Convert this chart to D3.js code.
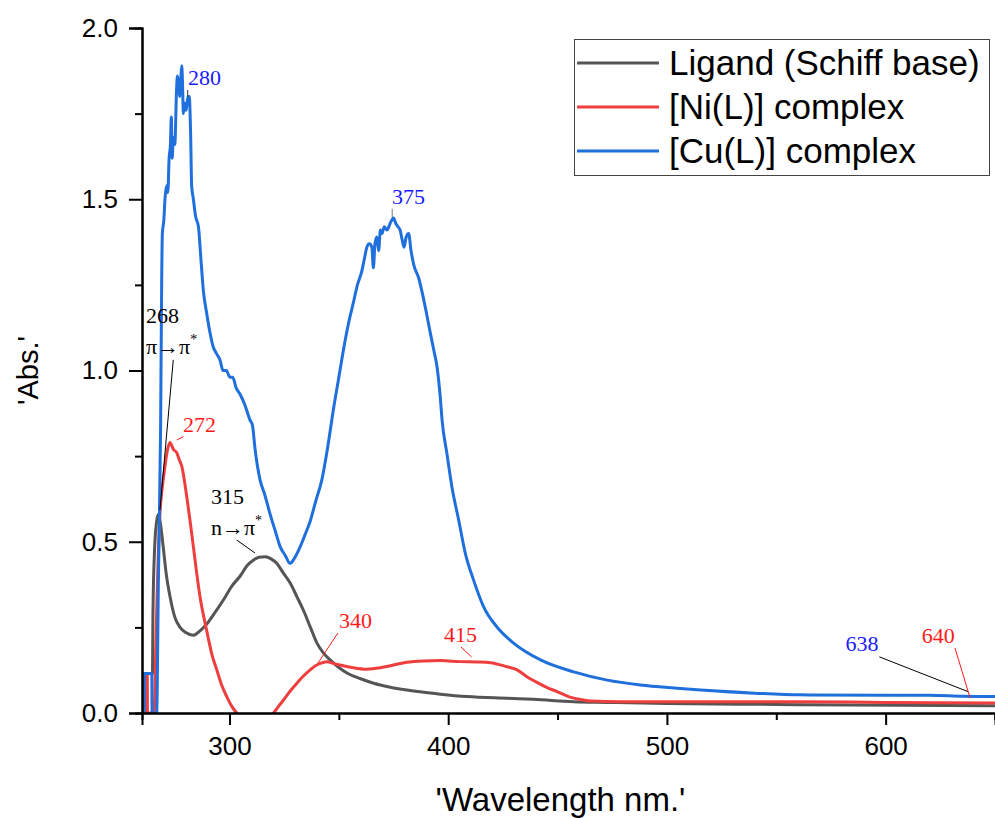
<!DOCTYPE html>
<html>
<head>
<meta charset="utf-8">
<script src="https://cdn.jsdelivr.net/npm/d3@7"></script>
<style>
  body { margin: 0; background: #fff; }
  svg { display: block; }
</style>
</head>
<body>
<svg id="chart" width="995" height="818"></svg>
<script>
'use strict';

// series: [wavelength nm, absorbance]
var ligand = [[261, 0.0], [261.1, 0.115], [264.8, 0.115], [265.0, 0.29], [265.8, 0.485], [266.5, 0.55],
  [267.5, 0.58], [268.5, 0.55], [269.7, 0.485], [271, 0.41], [272.8, 0.34], [275, 0.28], [277.4, 0.25],
  [280, 0.235], [283.5, 0.227], [286.5, 0.24], [289.6, 0.26], [293, 0.29], [297.2, 0.33], [301, 0.37],
  [304.9, 0.40], [308, 0.43], [311, 0.447], [313.5, 0.455], [316.3, 0.456], [319, 0.45], [321.6, 0.437],
  [324.5, 0.41], [327.7, 0.38], [330.8, 0.34], [333.8, 0.30], [337, 0.25], [340, 0.204], [343, 0.175],
  [346, 0.155], [350, 0.133], [353.7, 0.117], [360, 0.1], [365.9, 0.087], [373, 0.076], [381.1, 0.067],
  [388, 0.061], [396.4, 0.055], [408.6, 0.048], [426.9, 0.043], [439, 0.04], [457.4, 0.033], [472.7, 0.031],
  [500, 0.028], [550, 0.025], [583, 0.023], [650, 0.021]];

var niComplex = [[262.0, 0.0], [262.1, 0.115], [262.4, 0.115], [262.5, 0.0], [265.5, 0.0], [266.3, 0.19],
  [267.1, 0.39], [268.2, 0.58], [269.3, 0.66], [270.5, 0.72], [271.7, 0.77], [272.8, 0.79], [274.3, 0.77],
  [275.9, 0.76], [277, 0.74], [278.2, 0.72], [280.5, 0.63], [282, 0.56], [283.5, 0.485], [286.5, 0.34],
  [289.6, 0.24], [292, 0.17], [294.2, 0.126], [296.5, 0.08], [298.8, 0.047], [301, 0.02], [303.3, 0.0],
  [311, -0.03], [320.1, 0.0], [322.5, 0.02], [324.7, 0.038], [327.5, 0.062], [330.8, 0.087], [333.8, 0.108],
  [336.9, 0.126], [339.3, 0.138], [341.5, 0.145], [344.5, 0.15], [347.4, 0.145], [350.6, 0.14], [356, 0.133],
  [362.8, 0.128], [369, 0.132], [375, 0.14], [381, 0.148], [388.7, 0.152], [396.4, 0.153], [405.5, 0.15],
  [413, 0.149], [419.3, 0.147], [426.9, 0.135], [431.5, 0.126], [436, 0.106], [441, 0.088], [445, 0.075],
  [450, 0.062], [455, 0.048], [460, 0.04], [465, 0.035], [478.8, 0.033], [515, 0.033], [561, 0.033],
  [600, 0.031], [650, 0.029]];

var cuComplex = [[261.0, 0.0], [261.1, 0.115], [264.5, 0.115], [264.6, 0.0], [266.7, 0.0], [267.5, 0.39],
  [268.5, 0.83], [269.0, 1.26], [269.3, 1.40], [270.0, 1.44], [270.5, 1.50], [271.3, 1.54], [271.8, 1.52],
  [272.4, 1.62], [273.0, 1.66], [273.4, 1.74], [273.8, 1.62], [274.3, 1.68], [275.0, 1.66], [275.8, 1.82],
  [276.2, 1.86], [276.7, 1.84], [277.2, 1.80], [277.8, 1.86], [278.2, 1.89], [278.6, 1.82], [278.9, 1.75],
  [279.5, 1.78], [280.2, 1.76], [281.0, 1.80], [281.6, 1.80], [282.2, 1.70], [282.7, 1.54], [283.5, 1.50],
  [284.5, 1.45], [285.8, 1.42], [287.0, 1.32], [288.1, 1.23], [289.5, 1.17], [291.1, 1.11], [292.5, 1.07],
  [294.0, 1.05], [295.7, 1.03], [297.0, 1.00], [298.5, 1.00], [300.3, 0.98], [301.5, 0.98], [303.0, 0.95],
  [304.9, 0.93], [307.0, 0.90], [309.4, 0.855], [310.5, 0.84], [311.7, 0.77], [314.0, 0.68], [316.0, 0.64],
  [318.6, 0.58], [321.0, 0.53], [323.2, 0.485], [325.5, 0.46], [327.7, 0.437], [329.5, 0.45], [332.3, 0.485],
  [334.5, 0.52], [336.9, 0.56], [339.5, 0.62], [342.2, 0.68], [345.0, 0.78], [347.6, 0.89], [350.0, 0.98],
  [352.1, 1.06], [354.5, 1.14], [356.7, 1.20], [358.5, 1.25], [360.5, 1.29], [361.8, 1.33], [362.8, 1.36],
  [364.0, 1.37], [365.1, 1.36], [365.8, 1.30], [366.5, 1.37], [367.4, 1.39], [368.2, 1.35], [369.0, 1.41],
  [369.7, 1.40], [370.8, 1.42], [372.0, 1.41], [373.5, 1.43], [375.0, 1.445], [376.0, 1.43], [377.0, 1.42],
  [378.0, 1.41], [379.0, 1.38], [379.8, 1.36], [380.8, 1.39], [381.9, 1.40], [383.0, 1.35], [384.2, 1.31],
  [386.5, 1.27], [388.7, 1.21], [390.3, 1.16], [391.8, 1.11], [393.4, 1.06], [394.9, 1.01], [396.4, 0.92],
  [397.2, 0.855], [399.4, 0.758], [401.7, 0.66], [404.8, 0.563], [407.8, 0.467], [411.6, 0.388], [416.2, 0.31],
  [422.3, 0.251], [429.9, 0.204], [442.2, 0.155], [457.4, 0.12], [472.7, 0.096], [487.9, 0.082], [503.2, 0.073],
  [515.4, 0.067], [540, 0.058], [561, 0.053], [600, 0.052], [620, 0.052], [635, 0.049], [650, 0.048]];

var seriesNames = ['Ligand (Schiff base)', '[Ni(L)] complex', '[Cu(L)] complex'];
var seriesColors = ['#555555', '#ef3e3e', '#1f6fdc'];

var xTicks = [300, 400, 500, 600];
var yTicks = [0.0, 0.5, 1.0, 1.5, 2.0];

// peak labels: text, colour, label pos [nm, abs], leader line from/to [nm, abs]
var peakLabels = [
  { text: '280', color: '#1a1aff', at: [281.0, 1.835], from: [280.9, 1.819], to: [280.9, 1.799], line: '#333' },
  { text: '375', color: '#1a1aff', at: [374.3, 1.486], from: [374.4, 1.472], to: [374.4, 1.448], line: '#777' },
  { text: '268', color: '#000', at: [261.8, 1.139], sub: '\u03c0\u2192\u03c0', from: [274.3, 1.031], to: [268.2, 0.593], line: '#000' },
  { text: '272', color: '#ff1a1a', at: [278.7, 0.820], from: [275.9, 0.797], to: [278.9, 0.807], line: '#ff1a1a' },
  { text: '315', color: '#000', at: [291.5, 0.610], sub: 'n\u2192\u03c0', from: [303.3, 0.505], to: [311.7, 0.467], line: '#000' },
  { text: '340', color: '#ff1a1a', at: [350.1, 0.248], from: [349.6, 0.234], to: [340.5, 0.146], line: '#ff1a1a' },
  { text: '415', color: '#ff1a1a', at: [398.1, 0.207], from: [405.8, 0.193], to: [410.7, 0.1635], line: '#ff1a1a' },
  { text: '638', color: '#1a1aff', at: [581.7, 0.181], from: [597.1, 0.164], to: [637.8, 0.062], line: '#000' },
  { text: '640', color: '#ff1a1a', at: [616.5, 0.204], from: [631.7, 0.190], to: [638.6, 0.044], line: '#ff1a1a' }
];

var svg = d3.select('#chart');
var plotLeft = 142, plotRight = 995, plotTop = 28, plotBottom = 713;

var x = d3.scaleLinear().domain([260, 650]).range([plotLeft, plotRight]);
var y = d3.scaleLinear().domain([0, 2]).range([plotBottom, plotTop]);

svg.append('clipPath').attr('id', 'plotClip')
  .append('rect').attr('x', plotLeft).attr('y', plotTop - 5)
  .attr('width', plotRight - plotLeft).attr('height', plotBottom - plotTop + 5);

// curves
var line = d3.line()
  .x(function (d) { return x(d[0]); })
  .y(function (d) { return y(d[1]); })
  .curve(d3.curveMonotoneX);
var plot = svg.append('g').attr('clip-path', 'url(#plotClip)');
[ligand, niComplex, cuComplex].forEach(function (s, i) {
  plot.append('path').datum(s)
    .attr('d', line)
    .attr('fill', 'none')
    .attr('stroke', seriesColors[i])
    .attr('stroke-width', 3)
    .attr('stroke-linejoin', 'round');
});

// axes (major + minor ticks)
var xAxis = svg.append('g').attr('transform', 'translate(0,' + plotBottom + ')');
xAxis.call(d3.axisBottom(x).tickValues(d3.range(350, 651, 100)).tickSize(7).tickFormat(''));
xAxis.append('g').call(d3.axisBottom(x).tickValues(xTicks).tickSize(12).tickPadding(12).tickFormat(d3.format('d')));

var yAxis = svg.append('g').attr('transform', 'translate(' + plotLeft + ',0)');
yAxis.call(d3.axisLeft(y).tickValues([0.25, 0.75, 1.25, 1.75]).tickSize(7).tickFormat(''));
yAxis.append('g').call(d3.axisLeft(y).tickValues(yTicks).tickSize(13).tickPadding(11).tickFormat(d3.format('.1f')));

svg.selectAll('.domain').attr('stroke', '#000').attr('stroke-width', 2);
svg.selectAll('.tick line').attr('stroke', '#000').attr('stroke-width', 2);
svg.selectAll('.tick text')
  .attr('font-family', 'Liberation Sans, Arial, sans-serif')
  .attr('font-size', 26)
  .attr('fill', '#000');

svg.append('text')
  .attr('x', (plotLeft + plotRight) / 2 - 8).attr('y', 811)
  .attr('text-anchor', 'middle')
  .attr('font-family', 'Liberation Sans, Arial, sans-serif')
  .attr('font-size', 33)
  .text("'Wavelength nm.'");

svg.append('text')
  .attr('transform', 'translate(38,' + ((plotTop + plotBottom) / 2) + ') rotate(-90)')
  .attr('text-anchor', 'middle')
  .attr('font-family', 'Liberation Sans, Arial, sans-serif')
  .attr('font-size', 29)
  .text("'Abs.'");

// peak annotations
var notes = svg.append('g').attr('font-family', 'Liberation Serif, Times New Roman, serif');
peakLabels.forEach(function (p) {
  notes.append('line')
    .attr('x1', x(p.from[0])).attr('y1', y(p.from[1]))
    .attr('x2', x(p.to[0])).attr('y2', y(p.to[1]))
    .attr('stroke', p.line).attr('stroke-width', 1);
  notes.append('text')
    .attr('x', x(p.at[0])).attr('y', y(p.at[1]))
    .attr('font-size', 22)
    .attr('fill', p.color)
    .text(p.text);
  if (p.sub) {
    var t = notes.append('text')
      .attr('x', x(p.at[0])).attr('y', y(p.at[1]) + 31)
      .attr('font-size', 22)
      .attr('fill', p.color)
      .text(p.sub);
    t.append('tspan').attr('dy', -10).attr('font-size', 14).text('*');
  }
});

// legend
var legend = svg.append('g');
legend.append('rect')
  .attr('x', 574.5).attr('y', 39.5).attr('width', 415).attr('height', 136)
  .attr('fill', '#fff').attr('stroke', '#444').attr('stroke-width', 1);
seriesNames.forEach(function (name, i) {
  var ly = 63 + i * 44;
  legend.append('line')
    .attr('x1', 577).attr('x2', 659).attr('y1', ly).attr('y2', ly)
    .attr('stroke', seriesColors[i]).attr('stroke-width', 3);
  legend.append('text')
    .attr('x', 669).attr('y', ly + 12)
    .attr('font-family', 'Liberation Sans, Arial, sans-serif')
    .attr('font-size', 35)
    .text(name);
});
</script>
</body>
</html>
